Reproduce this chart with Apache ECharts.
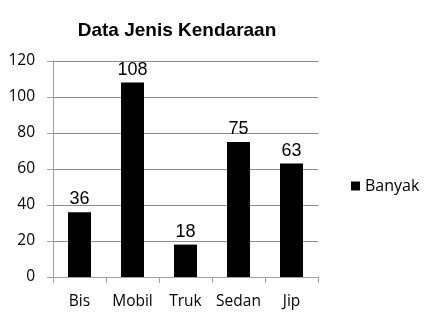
<!DOCTYPE html>
<html><head><meta charset="utf-8">
<script src="https://cdn.jsdelivr.net/npm/echarts@6/dist/echarts.min.js"></script>
<style>html,body{margin:0;padding:0;background:#fff}#c{width:430px;height:316px}</style>
</head><body><div id="c"></div>
<script>
const categories = ['Bis', 'Mobil', 'Truk', 'Sedan', 'Jip'];
const values = [36, 108, 18, 75, 63];
const seriesName = 'Banyak';
const titleText = 'Data Jenis Kendaraan';

const chart = echarts.init(document.getElementById('c'), null, {renderer: 'canvas'});
chart.setOption({
  animation: false,
  backgroundColor: '#fff',
  title: {
    text: titleText, left: 172, top: 16, textAlign: 'center',
    textStyle: {fontFamily: 'Liberation Sans, Arial', fontWeight: 'bold', fontSize: 19, color: '#000'}
  },
  legend: {
    top: 173, left: 346, orient: 'vertical',
    itemWidth: 9, itemHeight: 9, itemGap: 6,
    icon: 'rect',
    textStyle: {fontFamily: 'Open Sans, Noto Sans', fontSize: 16, color: '#000'},
    data: [seriesName]
  },
  grid: {left: 53, right: 112, top: 61, bottom: 39},
  xAxis: {
    type: 'category', data: categories,
    axisLine: {lineStyle: {color: '#a0a0a0'}},
    axisTick: {show: true, alignWithLabel: false, length: 6, lineStyle: {color: '#a0a0a0'}},
    axisLabel: {interval: 0, hideOverlap: false, margin: 17, fontFamily: 'Open Sans, Noto Sans', fontSize: 15.5, color: '#000'}
  },
  yAxis: {
    type: 'value', min: 0, max: 120, interval: 20,
    axisLine: {show: true, lineStyle: {color: '#a0a0a0'}},
    axisTick: {show: true, length: 6, lineStyle: {color: '#a0a0a0'}},
    splitLine: {lineStyle: {color: '#8c8c8c'}},
    axisLabel: {margin: 18, fontFamily: 'Open Sans, Noto Sans', fontSize: 15.5, color: '#000'}
  },
  series: [{
    name: seriesName, type: 'bar', data: values,
    barWidth: 23,
    itemStyle: {color: '#000'},
    label: {show: true, position: 'top', distance: 4,
      fontFamily: 'Liberation Sans, Arial', fontSize: 18, color: '#000'}
  }]
});
</script></body></html>
